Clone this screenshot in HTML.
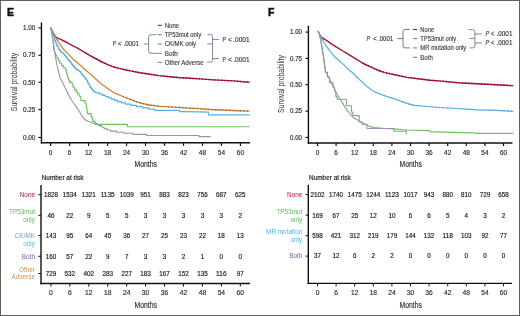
<!DOCTYPE html>
<html><head><meta charset="utf-8"><style>
html,body{margin:0;padding:0;background:#fff;}
body{width:520px;height:316px;overflow:hidden;}
.fig{position:absolute;left:0;top:0;width:520px;height:316px;box-sizing:border-box;border:1px solid #606060;background:#fff;}
svg{position:absolute;left:0;top:0;will-change:transform;}
text{font-family:"Liberation Sans",sans-serif;}
</style></head><body>
<div class="fig"></div>
<svg width="520" height="316" viewBox="0 0 520 316">
<text x="7.10" y="15.88" font-size="10.5" fill="#111" font-weight="bold" stroke="#111" stroke-width="0.45">E</text>
<line x1="41.45" y1="22.50" x2="41.45" y2="143.50" stroke="#111" stroke-width="1.4"/>
<line x1="40.80" y1="142.80" x2="250.00" y2="142.80" stroke="#111" stroke-width="1.4"/>
<line x1="38.30" y1="27.90" x2="41.20" y2="27.90" stroke="#111" stroke-width="1.1"/>
<text x="35.30" y="30.17" font-size="6.3" fill="#333" text-anchor="end" textLength="12.4" lengthAdjust="spacingAndGlyphs" stroke="#333" stroke-width="0.18">1.00</text>
<line x1="38.30" y1="55.20" x2="41.20" y2="55.20" stroke="#111" stroke-width="1.1"/>
<text x="35.30" y="57.47" font-size="6.3" fill="#333" text-anchor="end" textLength="12.4" lengthAdjust="spacingAndGlyphs" stroke="#333" stroke-width="0.18">0.75</text>
<line x1="38.30" y1="82.30" x2="41.20" y2="82.30" stroke="#111" stroke-width="1.1"/>
<text x="35.30" y="84.57" font-size="6.3" fill="#333" text-anchor="end" textLength="12.4" lengthAdjust="spacingAndGlyphs" stroke="#333" stroke-width="0.18">0.50</text>
<line x1="38.30" y1="109.60" x2="41.20" y2="109.60" stroke="#111" stroke-width="1.1"/>
<text x="35.30" y="111.87" font-size="6.3" fill="#333" text-anchor="end" textLength="12.4" lengthAdjust="spacingAndGlyphs" stroke="#333" stroke-width="0.18">0.25</text>
<line x1="38.30" y1="137.50" x2="41.20" y2="137.50" stroke="#111" stroke-width="1.1"/>
<text x="35.30" y="139.77" font-size="6.3" fill="#333" text-anchor="end" textLength="12.4" lengthAdjust="spacingAndGlyphs" stroke="#333" stroke-width="0.18">0.00</text>
<line x1="50.60" y1="142.80" x2="50.60" y2="145.90" stroke="#111" stroke-width="1.2"/>
<text x="50.60" y="154.84" font-size="6.5" fill="#333" text-anchor="middle" stroke="#333" stroke-width="0.18">0</text>
<line x1="69.59" y1="142.80" x2="69.59" y2="145.90" stroke="#111" stroke-width="1.2"/>
<text x="69.59" y="154.84" font-size="6.5" fill="#333" text-anchor="middle" stroke="#333" stroke-width="0.18">6</text>
<line x1="88.57" y1="142.80" x2="88.57" y2="145.90" stroke="#111" stroke-width="1.2"/>
<text x="88.57" y="154.84" font-size="6.5" fill="#333" text-anchor="middle" stroke="#333" stroke-width="0.18">12</text>
<line x1="107.56" y1="142.80" x2="107.56" y2="145.90" stroke="#111" stroke-width="1.2"/>
<text x="107.56" y="154.84" font-size="6.5" fill="#333" text-anchor="middle" stroke="#333" stroke-width="0.18">18</text>
<line x1="126.54" y1="142.80" x2="126.54" y2="145.90" stroke="#111" stroke-width="1.2"/>
<text x="126.54" y="154.84" font-size="6.5" fill="#333" text-anchor="middle" stroke="#333" stroke-width="0.18">24</text>
<line x1="145.53" y1="142.80" x2="145.53" y2="145.90" stroke="#111" stroke-width="1.2"/>
<text x="145.53" y="154.84" font-size="6.5" fill="#333" text-anchor="middle" stroke="#333" stroke-width="0.18">30</text>
<line x1="164.51" y1="142.80" x2="164.51" y2="145.90" stroke="#111" stroke-width="1.2"/>
<text x="164.51" y="154.84" font-size="6.5" fill="#333" text-anchor="middle" stroke="#333" stroke-width="0.18">36</text>
<line x1="183.50" y1="142.80" x2="183.50" y2="145.90" stroke="#111" stroke-width="1.2"/>
<text x="183.50" y="154.84" font-size="6.5" fill="#333" text-anchor="middle" stroke="#333" stroke-width="0.18">42</text>
<line x1="202.48" y1="142.80" x2="202.48" y2="145.90" stroke="#111" stroke-width="1.2"/>
<text x="202.48" y="154.84" font-size="6.5" fill="#333" text-anchor="middle" stroke="#333" stroke-width="0.18">48</text>
<line x1="221.46" y1="142.80" x2="221.46" y2="145.90" stroke="#111" stroke-width="1.2"/>
<text x="221.46" y="154.84" font-size="6.5" fill="#333" text-anchor="middle" stroke="#333" stroke-width="0.18">54</text>
<line x1="240.45" y1="142.80" x2="240.45" y2="145.90" stroke="#111" stroke-width="1.2"/>
<text x="240.45" y="154.84" font-size="6.5" fill="#333" text-anchor="middle" stroke="#333" stroke-width="0.18">60</text>
<text x="145.70" y="166.70" font-size="8.6" fill="#333" text-anchor="middle" textLength="22.6" lengthAdjust="spacingAndGlyphs" stroke="#333" stroke-width="0.18">Months</text>
<text transform="translate(17.4,82.0) rotate(-90)" font-size="8.6" fill="#333" text-anchor="middle" textLength="58.4" lengthAdjust="spacingAndGlyphs">Survival probability</text>
<path d="M50.60,27.90 L52.50,31.50 L55.10,36.20 L57.00,37.90 L60.60,39.40 L64.00,41.00 L68.50,43.40 L73.00,45.80 L78.00,48.30 L85.00,52.60 L90.00,55.60 L96.40,59.00 L102.00,62.00 L107.80,64.60 L113.00,66.70 L119.20,68.40 L125.00,69.70 L130.50,70.90 L140.00,72.70 L150.00,74.30 L159.00,75.60 L170.00,76.70 L178.00,77.50 L190.00,78.30 L200.00,78.90 L214.00,79.90 L233.00,80.90 L249.50,82.20" stroke="#ad163b" stroke-width="1.45" fill="none" stroke-linejoin="round"/>
<path d="M85.00,52.60 L90.00,55.60 L96.40,59.00 L102.00,62.00 L107.80,64.60 L113.00,66.70 L119.20,68.40 L125.00,69.70 L130.50,70.90 L140.00,72.70 L150.00,74.30 L159.00,75.60 L170.00,76.70 L178.00,77.50 L190.00,78.30 L200.00,78.90 L214.00,79.90 L233.00,80.90 L249.50,82.20" stroke="#6a0c22" stroke-width="1.55" fill="none" stroke-linejoin="round" stroke-dasharray="0.8 2.4"/>
<path d="M50.60,27.90 L53.00,32.50 L55.10,36.80 L59.10,43.20 L63.80,49.50 L68.50,54.40 L73.30,59.20 L78.00,63.30 L85.00,69.40 L92.60,76.00 L100.20,83.00 L110.00,90.30 L116.00,93.60 L123.00,96.50 L131.00,99.60 L138.00,102.30 L149.00,105.00 L160.00,106.30 L170.00,106.90 L185.00,107.90 L200.00,108.70 L210.00,109.50 L233.00,110.50 L249.50,111.20" stroke="#cc8635" stroke-width="1.3" fill="none" stroke-linejoin="round"/>
<path d="M123.00,96.50 L131.00,99.60 L138.00,102.30 L149.00,105.00 L160.00,106.30 L170.00,106.90 L185.00,107.90 L200.00,108.70 L210.00,109.50 L233.00,110.50 L249.50,111.20" stroke="#6e5434" stroke-width="1.5" fill="none" stroke-linejoin="round" stroke-dasharray="0.7 2.9"/>
<path d="M50.60,27.90 L51.60,27.90 L51.60,29.15 L51.60,29.15 L51.60,30.40 L52.60,30.40 L52.60,31.65 L52.60,31.65 L52.60,32.90 L52.60,32.90 L52.60,34.15 L53.60,34.15 L53.60,35.40 L53.60,35.40 L53.60,36.65 L54.60,36.65 L54.60,37.90 L54.60,37.90 L54.60,39.15 L54.60,39.15 L54.60,40.40 L55.60,40.40 L55.60,41.65 L55.60,41.65 L55.60,42.90 L56.60,42.90 L56.60,44.15 L56.60,44.15 L56.60,45.40 L57.60,45.40 L57.60,46.65 L58.60,46.65 L58.60,47.90 L58.60,47.90 L58.60,49.15 L59.60,49.15 L59.60,50.40 L60.60,50.40 L60.60,51.65 L61.60,51.65 L61.60,52.90 L63.60,52.90 L63.60,54.15 L64.60,54.15 L64.60,55.40 L65.60,55.40 L65.60,56.65 L66.60,56.65 L66.60,57.90 L67.60,57.90 L67.60,59.15 L68.60,59.15 L68.60,60.40 L69.60,60.40 L69.60,61.65 L70.60,61.65 L70.60,62.90 L71.60,62.90 L71.60,64.15 L72.60,64.15 L72.60,65.40 L73.60,65.40 L73.60,66.65 L74.60,66.65 L74.60,67.90 L75.60,67.90 L75.60,69.15 L77.60,69.15 L77.60,70.40 L79.60,70.40 L79.60,71.65 L80.60,71.65 L80.60,72.90 L81.60,72.90 L81.60,74.15 L82.60,74.15 L82.60,75.40 L83.60,75.40 L83.60,76.65 L84.60,76.65 L84.60,77.90 L85.60,77.90 L85.60,79.15 L86.60,79.15 L86.60,80.40 L87.60,80.40 L87.60,81.65 L87.60,81.65 L87.60,82.90 L88.60,82.90 L88.60,84.15 L89.60,84.15 L89.60,85.40 L89.60,85.40 L89.60,86.65 L90.60,86.65 L90.60,87.90 L91.60,87.90 L91.60,89.15 L92.60,89.15 L92.60,90.40 L93.60,90.40 L93.60,91.65 L95.60,91.65 L95.60,92.90 L99.60,92.90 L99.60,94.15 L102.60,94.15 L102.60,95.40 L105.60,95.40 L105.60,96.65 L108.60,96.65 L108.60,97.90 L111.60,97.90 L111.60,99.15 L114.60,99.15 L114.60,100.40 L117.60,100.40 L117.60,101.65 L121.60,101.65 L121.60,102.90 L125.60,102.90 L125.60,104.15 L130.60,104.15 L130.60,105.40 L136.60,105.40 L136.60,106.65 L142.60,106.65 L142.60,107.90 L148.60,107.90 L148.60,109.15 L154.60,109.15 L154.60,110.40 L179.60,110.40 L179.60,111.65 L185.00,111.65 L208.30,112.20 L208.50,114.90 L249.50,114.90" stroke="#55b3e2" stroke-width="1.2" fill="none" stroke-linejoin="round"/>
<path d="M50.60,27.90 L51.60,31.50 L52.60,37.00 L53.30,43.00 L53.70,47.50 L53.70,50.50 L54.60,50.50 L54.60,53.00 L55.60,53.00 L55.60,55.60 L57.00,55.60 L57.00,58.20 L58.50,58.20 L58.50,60.80 L59.80,60.80 L59.80,63.30 L61.50,63.30 L61.50,65.60 L63.60,65.60 L63.60,67.70 L65.80,67.70 L65.80,70.20 L66.40,70.20 L66.40,72.60 L67.00,72.60 L67.00,75.00 L67.70,75.00 L67.70,77.50 L68.40,77.50 L68.40,80.00 L69.60,80.00 L69.60,82.40 L72.20,82.40 L72.20,84.80 L73.10,84.80 L73.10,87.20 L74.60,87.20 L74.60,89.60 L76.20,89.60 L76.20,92.00 L77.60,92.00 L77.60,93.80 L79.20,93.80 L79.20,96.20 L80.80,96.20 L80.80,100.60 L85.00,100.60 L85.00,103.20 L86.20,103.20 L86.20,105.80 L86.60,105.80 L86.60,108.50 L87.00,108.50 L87.00,111.00 L87.40,111.00 L87.40,113.60 L91.00,113.60 L91.00,116.20 L92.00,116.20 L92.00,118.80 L92.80,118.80 L92.80,121.40 L95.20,121.40 L95.20,124.40 L127.50,124.40 L127.50,126.80 L249.50,126.80" stroke="#6fbf5e" stroke-width="1.1" fill="none" stroke-linejoin="round"/>
<path d="M50.60,27.90 L52.00,33.50 L53.20,42.00 L54.30,49.50 L55.50,57.00 L56.60,63.50 L57.60,68.00 L58.90,72.70 L60.10,77.70 L62.70,82.80 L65.20,87.80 L67.70,92.90 L70.90,99.20 L73.50,103.00 L76.00,106.40 L78.40,110.00 L80.80,114.00 L83.20,117.60 L85.60,120.00 L88.50,121.40 L91.00,122.20 L94.00,123.40 L94.00,123.40 L97.00,123.40 L97.00,124.50 L98.50,124.50 L98.50,125.60 L101.50,125.60 L101.50,126.70 L103.00,126.70 L103.00,127.80 L104.50,127.80 L104.50,128.90 L107.50,128.90 L107.50,130.00 L110.50,130.00 L110.50,131.10 L116.50,131.10 L116.50,132.20 L124.00,132.20 L124.00,133.30 L133.00,133.30 L133.00,134.40 L146.50,134.40 L146.50,135.50 L199.00,135.50 L199.00,136.60 L210.80,136.60" stroke="#9893b6" stroke-width="1.1" fill="none" stroke-linejoin="round"/>
<line x1="157.80" y1="25.30" x2="161.80" y2="25.30" stroke="#8c1a32" stroke-width="1.1"/>
<text x="164.70" y="27.60" font-size="6.4" fill="#4a4a4a" textLength="14.5" lengthAdjust="spacingAndGlyphs" stroke="#4a4a4a" stroke-width="0.18">None</text>
<line x1="157.80" y1="34.70" x2="161.80" y2="34.70" stroke="#5ea45a" stroke-width="1.1"/>
<text x="164.70" y="37.00" font-size="6.4" fill="#4a4a4a" textLength="36.5" lengthAdjust="spacingAndGlyphs" stroke="#4a4a4a" stroke-width="0.18">TP53mut only</text>
<line x1="157.80" y1="44.00" x2="161.80" y2="44.00" stroke="#4a9ec0" stroke-width="1.1"/>
<text x="164.70" y="46.30" font-size="6.4" fill="#4a4a4a" textLength="31.4" lengthAdjust="spacingAndGlyphs" stroke="#4a4a4a" stroke-width="0.18">CK/MK only</text>
<line x1="157.80" y1="53.30" x2="161.80" y2="53.30" stroke="#857fa5" stroke-width="1.1"/>
<text x="164.70" y="55.60" font-size="6.4" fill="#4a4a4a" textLength="13.0" lengthAdjust="spacingAndGlyphs" stroke="#4a4a4a" stroke-width="0.18">Both</text>
<line x1="157.80" y1="62.40" x2="161.80" y2="62.40" stroke="#b87c3a" stroke-width="1.1"/>
<text x="164.70" y="64.70" font-size="6.4" fill="#4a4a4a" textLength="39.0" lengthAdjust="spacingAndGlyphs" stroke="#4a4a4a" stroke-width="0.18">Other Adverse</text>
<text x="112.70" y="45.88" font-size="6.6" fill="#444" textLength="3.4" lengthAdjust="spacingAndGlyphs" stroke="#444" stroke-width="0.18">P</text>
<text x="117.70" y="45.88" font-size="6.6" fill="#444" stroke="#444" stroke-width="0.18">&lt;</text>
<text x="123.40" y="45.88" font-size="6.6" fill="#444" textLength="15.7" lengthAdjust="spacingAndGlyphs" stroke="#444" stroke-width="0.18">.0001</text>
<path d="M144,44 L148.6,44 M156.5,34.7 L151,34.7 Q148.6,34.7 148.6,37.2 L148.6,50.8 Q148.6,53.3 151,53.3 L157.5,53.3" stroke="#6f7a92" stroke-width="0.9" fill="none" stroke-linejoin="round"/>
<path d="M207.5,34.4 L210.5,34.4 Q212.6,34.4 212.6,36.5 L212.6,60.2 Q212.6,62.2 210.5,62.2 L207.2,62.2" stroke="#6f7a92" stroke-width="0.9" fill="none" stroke-linejoin="round"/>
<path d="M207.2,43.9 L212.6,43.9" stroke="#6f7a92" stroke-width="0.9" fill="none" stroke-linejoin="round"/>
<path d="M212.6,39.4 L219,39.4 M212.6,58.6 L219,58.6" stroke="#6f7a92" stroke-width="0.9" fill="none" stroke-linejoin="round"/>
<text x="222.40" y="41.98" font-size="6.6" fill="#444" textLength="3.4" lengthAdjust="spacingAndGlyphs" stroke="#444" stroke-width="0.18">P</text>
<text x="227.90" y="41.98" font-size="6.6" fill="#444" stroke="#444" stroke-width="0.18">&lt;</text>
<text x="233.30" y="41.98" font-size="6.6" fill="#444" textLength="16.3" lengthAdjust="spacingAndGlyphs" stroke="#444" stroke-width="0.18">.0001</text>
<text x="222.40" y="61.88" font-size="6.6" fill="#444" textLength="3.4" lengthAdjust="spacingAndGlyphs" stroke="#444" stroke-width="0.18">P</text>
<text x="227.90" y="61.88" font-size="6.6" fill="#444" stroke="#444" stroke-width="0.18">&lt;</text>
<text x="233.30" y="61.88" font-size="6.6" fill="#444" textLength="16.3" lengthAdjust="spacingAndGlyphs" stroke="#444" stroke-width="0.18">.0001</text>
<text x="41.70" y="180.30" font-size="6.4" fill="#222" textLength="41.8" lengthAdjust="spacingAndGlyphs" stroke="#222" stroke-width="0.18">Number at risk</text>
<line x1="41.00" y1="185.00" x2="41.00" y2="284.20" stroke="#111" stroke-width="1.4"/>
<line x1="40.30" y1="283.50" x2="250.00" y2="283.50" stroke="#111" stroke-width="1.4"/>
<line x1="50.90" y1="283.50" x2="50.90" y2="286.60" stroke="#111" stroke-width="1.0"/>
<text x="50.90" y="295.31" font-size="6.7" fill="#333" text-anchor="middle" stroke="#333" stroke-width="0.18">0</text>
<line x1="69.84" y1="283.50" x2="69.84" y2="286.60" stroke="#111" stroke-width="1.0"/>
<text x="69.84" y="295.31" font-size="6.7" fill="#333" text-anchor="middle" stroke="#333" stroke-width="0.18">6</text>
<line x1="88.78" y1="283.50" x2="88.78" y2="286.60" stroke="#111" stroke-width="1.0"/>
<text x="88.78" y="295.31" font-size="6.7" fill="#333" text-anchor="middle" stroke="#333" stroke-width="0.18">12</text>
<line x1="107.72" y1="283.50" x2="107.72" y2="286.60" stroke="#111" stroke-width="1.0"/>
<text x="107.72" y="295.31" font-size="6.7" fill="#333" text-anchor="middle" stroke="#333" stroke-width="0.18">18</text>
<line x1="126.66" y1="283.50" x2="126.66" y2="286.60" stroke="#111" stroke-width="1.0"/>
<text x="126.66" y="295.31" font-size="6.7" fill="#333" text-anchor="middle" stroke="#333" stroke-width="0.18">24</text>
<line x1="145.60" y1="283.50" x2="145.60" y2="286.60" stroke="#111" stroke-width="1.0"/>
<text x="145.60" y="295.31" font-size="6.7" fill="#333" text-anchor="middle" stroke="#333" stroke-width="0.18">30</text>
<line x1="164.54" y1="283.50" x2="164.54" y2="286.60" stroke="#111" stroke-width="1.0"/>
<text x="164.54" y="295.31" font-size="6.7" fill="#333" text-anchor="middle" stroke="#333" stroke-width="0.18">36</text>
<line x1="183.48" y1="283.50" x2="183.48" y2="286.60" stroke="#111" stroke-width="1.0"/>
<text x="183.48" y="295.31" font-size="6.7" fill="#333" text-anchor="middle" stroke="#333" stroke-width="0.18">42</text>
<line x1="202.42" y1="283.50" x2="202.42" y2="286.60" stroke="#111" stroke-width="1.0"/>
<text x="202.42" y="295.31" font-size="6.7" fill="#333" text-anchor="middle" stroke="#333" stroke-width="0.18">48</text>
<line x1="221.36" y1="283.50" x2="221.36" y2="286.60" stroke="#111" stroke-width="1.0"/>
<text x="221.36" y="295.31" font-size="6.7" fill="#333" text-anchor="middle" stroke="#333" stroke-width="0.18">54</text>
<line x1="240.30" y1="283.50" x2="240.30" y2="286.60" stroke="#111" stroke-width="1.0"/>
<text x="240.30" y="295.31" font-size="6.7" fill="#333" text-anchor="middle" stroke="#333" stroke-width="0.18">60</text>
<text x="145.70" y="307.70" font-size="8.6" fill="#333" text-anchor="middle" textLength="22.4" lengthAdjust="spacingAndGlyphs" stroke="#333" stroke-width="0.18">Months</text>
<line x1="38.30" y1="194.70" x2="40.90" y2="194.70" stroke="#111" stroke-width="1.0"/>
<text x="35.00" y="197.00" font-size="6.4" fill="#ad163b" text-anchor="end" stroke="none">None</text>
<text x="50.90" y="197.04" font-size="6.5" fill="#222" text-anchor="middle" textLength="14.0" lengthAdjust="spacingAndGlyphs" stroke="#222" stroke-width="0.18">1828</text>
<text x="69.84" y="197.04" font-size="6.5" fill="#222" text-anchor="middle" textLength="14.0" lengthAdjust="spacingAndGlyphs" stroke="#222" stroke-width="0.18">1534</text>
<text x="88.78" y="197.04" font-size="6.5" fill="#222" text-anchor="middle" textLength="14.0" lengthAdjust="spacingAndGlyphs" stroke="#222" stroke-width="0.18">1321</text>
<text x="107.72" y="197.04" font-size="6.5" fill="#222" text-anchor="middle" textLength="14.0" lengthAdjust="spacingAndGlyphs" stroke="#222" stroke-width="0.18">1135</text>
<text x="126.66" y="197.04" font-size="6.5" fill="#222" text-anchor="middle" textLength="14.0" lengthAdjust="spacingAndGlyphs" stroke="#222" stroke-width="0.18">1039</text>
<text x="145.60" y="197.04" font-size="6.5" fill="#222" text-anchor="middle" textLength="10.5" lengthAdjust="spacingAndGlyphs" stroke="#222" stroke-width="0.18">951</text>
<text x="164.54" y="197.04" font-size="6.5" fill="#222" text-anchor="middle" textLength="10.5" lengthAdjust="spacingAndGlyphs" stroke="#222" stroke-width="0.18">883</text>
<text x="183.48" y="197.04" font-size="6.5" fill="#222" text-anchor="middle" textLength="10.5" lengthAdjust="spacingAndGlyphs" stroke="#222" stroke-width="0.18">823</text>
<text x="202.42" y="197.04" font-size="6.5" fill="#222" text-anchor="middle" textLength="10.5" lengthAdjust="spacingAndGlyphs" stroke="#222" stroke-width="0.18">756</text>
<text x="221.36" y="197.04" font-size="6.5" fill="#222" text-anchor="middle" textLength="10.5" lengthAdjust="spacingAndGlyphs" stroke="#222" stroke-width="0.18">687</text>
<text x="240.30" y="197.04" font-size="6.5" fill="#222" text-anchor="middle" textLength="10.5" lengthAdjust="spacingAndGlyphs" stroke="#222" stroke-width="0.18">625</text>
<line x1="38.30" y1="215.30" x2="40.90" y2="215.30" stroke="#111" stroke-width="1.0"/>
<text x="35.00" y="213.70" font-size="6.4" fill="#5cb85c" text-anchor="end" stroke="none">TP53mut</text>
<text x="35.00" y="221.90" font-size="6.4" fill="#5cb85c" text-anchor="end" stroke="none">only</text>
<text x="50.90" y="217.64" font-size="6.5" fill="#222" text-anchor="middle" textLength="7.0" lengthAdjust="spacingAndGlyphs" stroke="#222" stroke-width="0.18">46</text>
<text x="69.84" y="217.64" font-size="6.5" fill="#222" text-anchor="middle" textLength="7.0" lengthAdjust="spacingAndGlyphs" stroke="#222" stroke-width="0.18">22</text>
<text x="88.78" y="217.64" font-size="6.5" fill="#222" text-anchor="middle" textLength="3.5" lengthAdjust="spacingAndGlyphs" stroke="#222" stroke-width="0.18">9</text>
<text x="107.72" y="217.64" font-size="6.5" fill="#222" text-anchor="middle" textLength="3.5" lengthAdjust="spacingAndGlyphs" stroke="#222" stroke-width="0.18">5</text>
<text x="126.66" y="217.64" font-size="6.5" fill="#222" text-anchor="middle" textLength="3.5" lengthAdjust="spacingAndGlyphs" stroke="#222" stroke-width="0.18">5</text>
<text x="145.60" y="217.64" font-size="6.5" fill="#222" text-anchor="middle" textLength="3.5" lengthAdjust="spacingAndGlyphs" stroke="#222" stroke-width="0.18">3</text>
<text x="164.54" y="217.64" font-size="6.5" fill="#222" text-anchor="middle" textLength="3.5" lengthAdjust="spacingAndGlyphs" stroke="#222" stroke-width="0.18">3</text>
<text x="183.48" y="217.64" font-size="6.5" fill="#222" text-anchor="middle" textLength="3.5" lengthAdjust="spacingAndGlyphs" stroke="#222" stroke-width="0.18">3</text>
<text x="202.42" y="217.64" font-size="6.5" fill="#222" text-anchor="middle" textLength="3.5" lengthAdjust="spacingAndGlyphs" stroke="#222" stroke-width="0.18">3</text>
<text x="221.36" y="217.64" font-size="6.5" fill="#222" text-anchor="middle" textLength="3.5" lengthAdjust="spacingAndGlyphs" stroke="#222" stroke-width="0.18">3</text>
<text x="240.30" y="217.64" font-size="6.5" fill="#222" text-anchor="middle" textLength="3.5" lengthAdjust="spacingAndGlyphs" stroke="#222" stroke-width="0.18">2</text>
<line x1="38.30" y1="235.50" x2="40.90" y2="235.50" stroke="#111" stroke-width="1.0"/>
<text x="35.00" y="237.50" font-size="6.4" fill="#4fb3e3" text-anchor="end" stroke="none">CK/MK</text>
<text x="35.00" y="245.80" font-size="6.4" fill="#4fb3e3" text-anchor="end" stroke="none">only</text>
<text x="50.90" y="237.84" font-size="6.5" fill="#222" text-anchor="middle" textLength="10.5" lengthAdjust="spacingAndGlyphs" stroke="#222" stroke-width="0.18">143</text>
<text x="69.84" y="237.84" font-size="6.5" fill="#222" text-anchor="middle" textLength="7.0" lengthAdjust="spacingAndGlyphs" stroke="#222" stroke-width="0.18">95</text>
<text x="88.78" y="237.84" font-size="6.5" fill="#222" text-anchor="middle" textLength="7.0" lengthAdjust="spacingAndGlyphs" stroke="#222" stroke-width="0.18">64</text>
<text x="107.72" y="237.84" font-size="6.5" fill="#222" text-anchor="middle" textLength="7.0" lengthAdjust="spacingAndGlyphs" stroke="#222" stroke-width="0.18">45</text>
<text x="126.66" y="237.84" font-size="6.5" fill="#222" text-anchor="middle" textLength="7.0" lengthAdjust="spacingAndGlyphs" stroke="#222" stroke-width="0.18">36</text>
<text x="145.60" y="237.84" font-size="6.5" fill="#222" text-anchor="middle" textLength="7.0" lengthAdjust="spacingAndGlyphs" stroke="#222" stroke-width="0.18">27</text>
<text x="164.54" y="237.84" font-size="6.5" fill="#222" text-anchor="middle" textLength="7.0" lengthAdjust="spacingAndGlyphs" stroke="#222" stroke-width="0.18">25</text>
<text x="183.48" y="237.84" font-size="6.5" fill="#222" text-anchor="middle" textLength="7.0" lengthAdjust="spacingAndGlyphs" stroke="#222" stroke-width="0.18">23</text>
<text x="202.42" y="237.84" font-size="6.5" fill="#222" text-anchor="middle" textLength="7.0" lengthAdjust="spacingAndGlyphs" stroke="#222" stroke-width="0.18">22</text>
<text x="221.36" y="237.84" font-size="6.5" fill="#222" text-anchor="middle" textLength="7.0" lengthAdjust="spacingAndGlyphs" stroke="#222" stroke-width="0.18">18</text>
<text x="240.30" y="237.84" font-size="6.5" fill="#222" text-anchor="middle" textLength="7.0" lengthAdjust="spacingAndGlyphs" stroke="#222" stroke-width="0.18">13</text>
<line x1="38.30" y1="256.30" x2="40.90" y2="256.30" stroke="#111" stroke-width="1.0"/>
<text x="35.00" y="258.60" font-size="6.4" fill="#74649a" text-anchor="end" stroke="none">Both</text>
<text x="50.90" y="258.64" font-size="6.5" fill="#222" text-anchor="middle" textLength="10.5" lengthAdjust="spacingAndGlyphs" stroke="#222" stroke-width="0.18">160</text>
<text x="69.84" y="258.64" font-size="6.5" fill="#222" text-anchor="middle" textLength="7.0" lengthAdjust="spacingAndGlyphs" stroke="#222" stroke-width="0.18">57</text>
<text x="88.78" y="258.64" font-size="6.5" fill="#222" text-anchor="middle" textLength="7.0" lengthAdjust="spacingAndGlyphs" stroke="#222" stroke-width="0.18">22</text>
<text x="107.72" y="258.64" font-size="6.5" fill="#222" text-anchor="middle" textLength="3.5" lengthAdjust="spacingAndGlyphs" stroke="#222" stroke-width="0.18">9</text>
<text x="126.66" y="258.64" font-size="6.5" fill="#222" text-anchor="middle" textLength="3.5" lengthAdjust="spacingAndGlyphs" stroke="#222" stroke-width="0.18">7</text>
<text x="145.60" y="258.64" font-size="6.5" fill="#222" text-anchor="middle" textLength="3.5" lengthAdjust="spacingAndGlyphs" stroke="#222" stroke-width="0.18">3</text>
<text x="164.54" y="258.64" font-size="6.5" fill="#222" text-anchor="middle" textLength="3.5" lengthAdjust="spacingAndGlyphs" stroke="#222" stroke-width="0.18">3</text>
<text x="183.48" y="258.64" font-size="6.5" fill="#222" text-anchor="middle" textLength="3.5" lengthAdjust="spacingAndGlyphs" stroke="#222" stroke-width="0.18">2</text>
<text x="202.42" y="258.64" font-size="6.5" fill="#222" text-anchor="middle" textLength="3.5" lengthAdjust="spacingAndGlyphs" stroke="#222" stroke-width="0.18">1</text>
<text x="221.36" y="258.64" font-size="6.5" fill="#222" text-anchor="middle" textLength="3.5" lengthAdjust="spacingAndGlyphs" stroke="#222" stroke-width="0.18">0</text>
<text x="240.30" y="258.64" font-size="6.5" fill="#222" text-anchor="middle" textLength="3.5" lengthAdjust="spacingAndGlyphs" stroke="#222" stroke-width="0.18">0</text>
<line x1="38.30" y1="273.50" x2="40.90" y2="273.50" stroke="#111" stroke-width="1.0"/>
<text x="35.00" y="271.70" font-size="6.4" fill="#c8935a" text-anchor="end" stroke="none">Other</text>
<text x="35.00" y="279.30" font-size="6.4" fill="#c8935a" text-anchor="end" stroke="none">Adverse</text>
<text x="50.90" y="275.84" font-size="6.5" fill="#222" text-anchor="middle" textLength="10.5" lengthAdjust="spacingAndGlyphs" stroke="#222" stroke-width="0.18">729</text>
<text x="69.84" y="275.84" font-size="6.5" fill="#222" text-anchor="middle" textLength="10.5" lengthAdjust="spacingAndGlyphs" stroke="#222" stroke-width="0.18">532</text>
<text x="88.78" y="275.84" font-size="6.5" fill="#222" text-anchor="middle" textLength="10.5" lengthAdjust="spacingAndGlyphs" stroke="#222" stroke-width="0.18">402</text>
<text x="107.72" y="275.84" font-size="6.5" fill="#222" text-anchor="middle" textLength="10.5" lengthAdjust="spacingAndGlyphs" stroke="#222" stroke-width="0.18">283</text>
<text x="126.66" y="275.84" font-size="6.5" fill="#222" text-anchor="middle" textLength="10.5" lengthAdjust="spacingAndGlyphs" stroke="#222" stroke-width="0.18">227</text>
<text x="145.60" y="275.84" font-size="6.5" fill="#222" text-anchor="middle" textLength="10.5" lengthAdjust="spacingAndGlyphs" stroke="#222" stroke-width="0.18">183</text>
<text x="164.54" y="275.84" font-size="6.5" fill="#222" text-anchor="middle" textLength="10.5" lengthAdjust="spacingAndGlyphs" stroke="#222" stroke-width="0.18">167</text>
<text x="183.48" y="275.84" font-size="6.5" fill="#222" text-anchor="middle" textLength="10.5" lengthAdjust="spacingAndGlyphs" stroke="#222" stroke-width="0.18">152</text>
<text x="202.42" y="275.84" font-size="6.5" fill="#222" text-anchor="middle" textLength="10.5" lengthAdjust="spacingAndGlyphs" stroke="#222" stroke-width="0.18">135</text>
<text x="221.36" y="275.84" font-size="6.5" fill="#222" text-anchor="middle" textLength="10.5" lengthAdjust="spacingAndGlyphs" stroke="#222" stroke-width="0.18">116</text>
<text x="240.30" y="275.84" font-size="6.5" fill="#222" text-anchor="middle" textLength="7.0" lengthAdjust="spacingAndGlyphs" stroke="#222" stroke-width="0.18">97</text>
<text x="267.90" y="15.88" font-size="10.5" fill="#111" font-weight="bold" stroke="#111" stroke-width="0.45">F</text>
<line x1="308.40" y1="25.70" x2="308.40" y2="143.70" stroke="#111" stroke-width="1.4"/>
<line x1="307.70" y1="143.00" x2="512.50" y2="143.00" stroke="#111" stroke-width="1.4"/>
<line x1="305.40" y1="32.10" x2="308.20" y2="32.10" stroke="#111" stroke-width="1.1"/>
<text x="302.00" y="34.37" font-size="6.3" fill="#333" text-anchor="end" textLength="12.0" lengthAdjust="spacingAndGlyphs" stroke="#333" stroke-width="0.18">1.00</text>
<line x1="305.40" y1="58.40" x2="308.20" y2="58.40" stroke="#111" stroke-width="1.1"/>
<text x="302.00" y="60.67" font-size="6.3" fill="#333" text-anchor="end" textLength="12.0" lengthAdjust="spacingAndGlyphs" stroke="#333" stroke-width="0.18">0.75</text>
<line x1="305.40" y1="84.70" x2="308.20" y2="84.70" stroke="#111" stroke-width="1.1"/>
<text x="302.00" y="86.97" font-size="6.3" fill="#333" text-anchor="end" textLength="12.0" lengthAdjust="spacingAndGlyphs" stroke="#333" stroke-width="0.18">0.50</text>
<line x1="305.40" y1="111.10" x2="308.20" y2="111.10" stroke="#111" stroke-width="1.1"/>
<text x="302.00" y="113.37" font-size="6.3" fill="#333" text-anchor="end" textLength="12.0" lengthAdjust="spacingAndGlyphs" stroke="#333" stroke-width="0.18">0.25</text>
<line x1="305.40" y1="137.40" x2="308.20" y2="137.40" stroke="#111" stroke-width="1.1"/>
<text x="302.00" y="139.67" font-size="6.3" fill="#333" text-anchor="end" textLength="12.0" lengthAdjust="spacingAndGlyphs" stroke="#333" stroke-width="0.18">0.00</text>
<line x1="317.50" y1="143.00" x2="317.50" y2="146.10" stroke="#111" stroke-width="1.2"/>
<text x="317.50" y="154.84" font-size="6.5" fill="#333" text-anchor="middle" stroke="#333" stroke-width="0.18">0</text>
<line x1="336.10" y1="143.00" x2="336.10" y2="146.10" stroke="#111" stroke-width="1.2"/>
<text x="336.10" y="154.84" font-size="6.5" fill="#333" text-anchor="middle" stroke="#333" stroke-width="0.18">6</text>
<line x1="354.70" y1="143.00" x2="354.70" y2="146.10" stroke="#111" stroke-width="1.2"/>
<text x="354.70" y="154.84" font-size="6.5" fill="#333" text-anchor="middle" stroke="#333" stroke-width="0.18">12</text>
<line x1="373.30" y1="143.00" x2="373.30" y2="146.10" stroke="#111" stroke-width="1.2"/>
<text x="373.30" y="154.84" font-size="6.5" fill="#333" text-anchor="middle" stroke="#333" stroke-width="0.18">18</text>
<line x1="391.90" y1="143.00" x2="391.90" y2="146.10" stroke="#111" stroke-width="1.2"/>
<text x="391.90" y="154.84" font-size="6.5" fill="#333" text-anchor="middle" stroke="#333" stroke-width="0.18">24</text>
<line x1="410.50" y1="143.00" x2="410.50" y2="146.10" stroke="#111" stroke-width="1.2"/>
<text x="410.50" y="154.84" font-size="6.5" fill="#333" text-anchor="middle" stroke="#333" stroke-width="0.18">30</text>
<line x1="429.10" y1="143.00" x2="429.10" y2="146.10" stroke="#111" stroke-width="1.2"/>
<text x="429.10" y="154.84" font-size="6.5" fill="#333" text-anchor="middle" stroke="#333" stroke-width="0.18">36</text>
<line x1="447.70" y1="143.00" x2="447.70" y2="146.10" stroke="#111" stroke-width="1.2"/>
<text x="447.70" y="154.84" font-size="6.5" fill="#333" text-anchor="middle" stroke="#333" stroke-width="0.18">42</text>
<line x1="466.30" y1="143.00" x2="466.30" y2="146.10" stroke="#111" stroke-width="1.2"/>
<text x="466.30" y="154.84" font-size="6.5" fill="#333" text-anchor="middle" stroke="#333" stroke-width="0.18">48</text>
<line x1="484.90" y1="143.00" x2="484.90" y2="146.10" stroke="#111" stroke-width="1.2"/>
<text x="484.90" y="154.84" font-size="6.5" fill="#333" text-anchor="middle" stroke="#333" stroke-width="0.18">54</text>
<line x1="503.50" y1="143.00" x2="503.50" y2="146.10" stroke="#111" stroke-width="1.2"/>
<text x="503.50" y="154.84" font-size="6.5" fill="#333" text-anchor="middle" stroke="#333" stroke-width="0.18">60</text>
<text x="410.70" y="166.90" font-size="8.6" fill="#333" text-anchor="middle" textLength="22.2" lengthAdjust="spacingAndGlyphs" stroke="#333" stroke-width="0.18">Months</text>
<text transform="translate(284.4,84.0) rotate(-90)" font-size="8.6" fill="#333" text-anchor="middle" textLength="57.8" lengthAdjust="spacingAndGlyphs">Survival probability</text>
<path d="M318.00,31.00 L319.60,34.50 L321.60,37.50 L326.40,40.30 L331.30,43.90 L334.90,46.20 L339.30,48.90 L343.70,51.50 L346.00,52.80 L350.10,55.30 L354.20,57.80 L358.30,60.40 L362.40,63.00 L366.50,65.00 L370.70,66.90 L374.80,68.90 L380.00,71.00 L385.00,72.60 L397.00,75.30 L407.00,77.40 L420.00,79.00 L430.00,80.20 L439.00,80.90 L458.00,82.70 L477.00,83.80 L496.00,84.70 L513.20,85.70" stroke="#ad163b" stroke-width="1.45" fill="none" stroke-linejoin="round"/>
<path d="M362.40,63.00 L366.50,65.00 L370.70,66.90 L374.80,68.90 L380.00,71.00 L385.00,72.60 L397.00,75.30 L407.00,77.40 L420.00,79.00 L430.00,80.20 L439.00,80.90 L458.00,82.70 L477.00,83.80 L496.00,84.70 L513.20,85.70" stroke="#6a0c22" stroke-width="1.55" fill="none" stroke-linejoin="round" stroke-dasharray="0.8 2.4"/>
<path d="M318.00,31.00 L319.80,34.50 L321.60,38.40 L324.00,42.50 L326.00,45.80 L328.70,49.30 L331.30,52.90 L334.90,57.00 L339.30,60.80 L343.70,64.60 L347.30,68.60 L350.10,70.70 L354.20,74.20 L358.50,78.80 L362.40,82.10 L365.50,85.30 L370.00,88.80 L374.30,91.70 L380.40,94.20 L387.00,96.60 L395.40,99.20 L402.00,101.60 L408.00,103.60 L413.00,105.20 L422.00,106.00 L439.00,107.50 L458.00,108.50 L477.00,109.80 L496.00,110.40 L513.20,111.30" stroke="#55b3e2" stroke-width="1.25" fill="none" stroke-linejoin="round"/>
<path d="M402.00,101.60 L408.00,103.60 L413.00,105.20 L422.00,106.00 L439.00,107.50 L458.00,108.50 L477.00,109.80 L496.00,110.40 L513.20,111.30" stroke="#3d8fb8" stroke-width="1.3" fill="none" stroke-linejoin="round" stroke-dasharray="0.6 3.2"/>
<path d="M318.00,31.00 L319.50,34.50 L320.70,39.40 L322.00,47.00 L323.50,56.50 L324.60,64.00 L325.60,71.40 L329.40,79.00 L333.20,86.60 L337.00,94.20 L340.70,100.00 L345.00,107.10 L349.20,112.80 L353.50,117.80 L358.50,120.60 L363.50,123.50 L369.20,126.30 L374.90,127.70 L385.00,128.50 L393.80,128.90 L405.00,130.00 L429.50,130.60 L430.00,131.60 L452.00,132.30 L475.00,132.80 L475.20,133.40 L513.20,133.40" stroke="#6fbf5e" stroke-width="1.2" fill="none" stroke-linejoin="round"/>
<path d="M318.00,31.00 L319.30,34.00 L320.50,40.00 L321.70,46.00 L322.80,53.00 L323.80,60.00 L324.60,66.00 L325.20,70.00 L325.20,72.30 L327.50,72.30 L327.50,77.10 L329.60,77.10 L329.60,82.80 L333.20,82.80 L333.20,87.50 L334.60,87.50 L334.60,91.30 L335.80,91.30 L335.80,96.40 L337.10,96.40 L337.10,99.30 L346.40,99.30 L346.40,105.70 L351.40,105.70 L351.40,112.10 L352.80,112.10 L352.80,115.60 L359.20,115.60 L359.20,122.00 L362.00,122.00 L362.00,124.20 L367.00,124.20 L367.00,128.50 L393.80,128.50 L393.80,131.20 L406.20,131.20" stroke="#9893b6" stroke-width="1.1" fill="none" stroke-linejoin="round"/>
<line x1="406.20" y1="129.20" x2="406.20" y2="135.20" stroke="#9893b6" stroke-width="0.9"/>
<line x1="412.90" y1="29.50" x2="417.20" y2="29.50" stroke="#8c1a32" stroke-width="1.1"/>
<text x="420.30" y="31.77" font-size="6.3" fill="#4a4a4a" textLength="13.9" lengthAdjust="spacingAndGlyphs" stroke="#4a4a4a" stroke-width="0.18">None</text>
<line x1="412.90" y1="38.60" x2="417.20" y2="38.60" stroke="#5ea45a" stroke-width="1.1"/>
<text x="420.30" y="40.87" font-size="6.3" fill="#4a4a4a" textLength="36.0" lengthAdjust="spacingAndGlyphs" stroke="#4a4a4a" stroke-width="0.18">TP53mut only</text>
<line x1="412.90" y1="47.90" x2="417.20" y2="47.90" stroke="#4a9ec0" stroke-width="1.1"/>
<text x="420.30" y="50.17" font-size="6.3" fill="#4a4a4a" textLength="46.0" lengthAdjust="spacingAndGlyphs" stroke="#4a4a4a" stroke-width="0.18">MR mutation only</text>
<line x1="412.90" y1="57.30" x2="417.20" y2="57.30" stroke="#857fa5" stroke-width="1.1"/>
<text x="420.30" y="59.57" font-size="6.3" fill="#4a4a4a" textLength="12.5" lengthAdjust="spacingAndGlyphs" stroke="#4a4a4a" stroke-width="0.18">Both</text>
<text x="366.60" y="40.60" font-size="6.4" fill="#444" textLength="3.6" lengthAdjust="spacingAndGlyphs" font-style="italic" stroke="#444" stroke-width="0.18">P</text>
<text x="372.90" y="40.60" font-size="6.4" fill="#444" stroke="#444" stroke-width="0.18">&lt;</text>
<text x="378.10" y="40.60" font-size="6.4" fill="#444" textLength="15.0" lengthAdjust="spacingAndGlyphs" stroke="#444" stroke-width="0.18">.0001</text>
<path d="M397.4,38.6 L403.0,38.6 M409.5,29.4 L405.0,29.4 Q403.0,29.4 403.0,31.6 L403.0,45.8 Q403.0,47.9 405.0,47.9 L410,47.9" stroke="#6f7a92" stroke-width="1.0" fill="none" stroke-linejoin="round"/>
<path d="M468.6,29.6 L472.6,29.6 Q474.9,29.6 474.9,31.9 L474.9,45.6 Q474.9,47.9 472.6,47.9 L469.3,47.9" stroke="#6f7a92" stroke-width="0.9" fill="none" stroke-linejoin="round"/>
<path d="M469.5,38.4 L474.9,38.4 M474.9,34.0 L482,34.0 M474.9,42.9 L482,42.9" stroke="#6f7a92" stroke-width="0.9" fill="none" stroke-linejoin="round"/>
<text x="485.50" y="35.90" font-size="6.4" fill="#444" textLength="3.6" lengthAdjust="spacingAndGlyphs" font-style="italic" stroke="#444" stroke-width="0.18">P</text>
<text x="490.70" y="35.90" font-size="6.4" fill="#444" stroke="#444" stroke-width="0.18">&lt;</text>
<text x="496.60" y="35.90" font-size="6.4" fill="#444" textLength="15.8" lengthAdjust="spacingAndGlyphs" stroke="#444" stroke-width="0.18">.0001</text>
<text x="485.50" y="45.20" font-size="6.4" fill="#444" textLength="3.6" lengthAdjust="spacingAndGlyphs" font-style="italic" stroke="#444" stroke-width="0.18">P</text>
<text x="490.70" y="45.20" font-size="6.4" fill="#444" stroke="#444" stroke-width="0.18">&lt;</text>
<text x="496.60" y="45.20" font-size="6.4" fill="#444" textLength="15.8" lengthAdjust="spacingAndGlyphs" stroke="#444" stroke-width="0.18">.0001</text>
<text x="309.00" y="180.00" font-size="6.4" fill="#222" textLength="41.8" lengthAdjust="spacingAndGlyphs" stroke="#222" stroke-width="0.18">Number at risk</text>
<line x1="308.30" y1="184.80" x2="308.30" y2="284.10" stroke="#111" stroke-width="1.4"/>
<line x1="307.60" y1="283.40" x2="512.00" y2="283.40" stroke="#111" stroke-width="1.4"/>
<line x1="317.50" y1="283.40" x2="317.50" y2="286.40" stroke="#111" stroke-width="1.0"/>
<text x="317.50" y="295.41" font-size="6.7" fill="#333" text-anchor="middle" stroke="#333" stroke-width="0.18">0</text>
<line x1="336.10" y1="283.40" x2="336.10" y2="286.40" stroke="#111" stroke-width="1.0"/>
<text x="336.10" y="295.41" font-size="6.7" fill="#333" text-anchor="middle" stroke="#333" stroke-width="0.18">6</text>
<line x1="354.70" y1="283.40" x2="354.70" y2="286.40" stroke="#111" stroke-width="1.0"/>
<text x="354.70" y="295.41" font-size="6.7" fill="#333" text-anchor="middle" stroke="#333" stroke-width="0.18">12</text>
<line x1="373.30" y1="283.40" x2="373.30" y2="286.40" stroke="#111" stroke-width="1.0"/>
<text x="373.30" y="295.41" font-size="6.7" fill="#333" text-anchor="middle" stroke="#333" stroke-width="0.18">18</text>
<line x1="391.90" y1="283.40" x2="391.90" y2="286.40" stroke="#111" stroke-width="1.0"/>
<text x="391.90" y="295.41" font-size="6.7" fill="#333" text-anchor="middle" stroke="#333" stroke-width="0.18">24</text>
<line x1="410.50" y1="283.40" x2="410.50" y2="286.40" stroke="#111" stroke-width="1.0"/>
<text x="410.50" y="295.41" font-size="6.7" fill="#333" text-anchor="middle" stroke="#333" stroke-width="0.18">30</text>
<line x1="429.10" y1="283.40" x2="429.10" y2="286.40" stroke="#111" stroke-width="1.0"/>
<text x="429.10" y="295.41" font-size="6.7" fill="#333" text-anchor="middle" stroke="#333" stroke-width="0.18">36</text>
<line x1="447.70" y1="283.40" x2="447.70" y2="286.40" stroke="#111" stroke-width="1.0"/>
<text x="447.70" y="295.41" font-size="6.7" fill="#333" text-anchor="middle" stroke="#333" stroke-width="0.18">42</text>
<line x1="466.30" y1="283.40" x2="466.30" y2="286.40" stroke="#111" stroke-width="1.0"/>
<text x="466.30" y="295.41" font-size="6.7" fill="#333" text-anchor="middle" stroke="#333" stroke-width="0.18">48</text>
<line x1="484.90" y1="283.40" x2="484.90" y2="286.40" stroke="#111" stroke-width="1.0"/>
<text x="484.90" y="295.41" font-size="6.7" fill="#333" text-anchor="middle" stroke="#333" stroke-width="0.18">54</text>
<line x1="503.50" y1="283.40" x2="503.50" y2="286.40" stroke="#111" stroke-width="1.0"/>
<text x="503.50" y="295.41" font-size="6.7" fill="#333" text-anchor="middle" stroke="#333" stroke-width="0.18">60</text>
<text x="410.70" y="307.70" font-size="8.6" fill="#333" text-anchor="middle" textLength="22.2" lengthAdjust="spacingAndGlyphs" stroke="#333" stroke-width="0.18">Months</text>
<line x1="305.60" y1="194.60" x2="308.20" y2="194.60" stroke="#111" stroke-width="1.0"/>
<text x="302.30" y="196.90" font-size="6.4" fill="#ad163b" text-anchor="end" stroke="none">None</text>
<text x="317.50" y="196.94" font-size="6.5" fill="#222" text-anchor="middle" textLength="14.0" lengthAdjust="spacingAndGlyphs" stroke="#222" stroke-width="0.18">2102</text>
<text x="336.10" y="196.94" font-size="6.5" fill="#222" text-anchor="middle" textLength="14.0" lengthAdjust="spacingAndGlyphs" stroke="#222" stroke-width="0.18">1740</text>
<text x="354.70" y="196.94" font-size="6.5" fill="#222" text-anchor="middle" textLength="14.0" lengthAdjust="spacingAndGlyphs" stroke="#222" stroke-width="0.18">1475</text>
<text x="373.30" y="196.94" font-size="6.5" fill="#222" text-anchor="middle" textLength="14.0" lengthAdjust="spacingAndGlyphs" stroke="#222" stroke-width="0.18">1244</text>
<text x="391.90" y="196.94" font-size="6.5" fill="#222" text-anchor="middle" textLength="14.0" lengthAdjust="spacingAndGlyphs" stroke="#222" stroke-width="0.18">1123</text>
<text x="410.50" y="196.94" font-size="6.5" fill="#222" text-anchor="middle" textLength="14.0" lengthAdjust="spacingAndGlyphs" stroke="#222" stroke-width="0.18">1017</text>
<text x="429.10" y="196.94" font-size="6.5" fill="#222" text-anchor="middle" textLength="10.5" lengthAdjust="spacingAndGlyphs" stroke="#222" stroke-width="0.18">943</text>
<text x="447.70" y="196.94" font-size="6.5" fill="#222" text-anchor="middle" textLength="10.5" lengthAdjust="spacingAndGlyphs" stroke="#222" stroke-width="0.18">880</text>
<text x="466.30" y="196.94" font-size="6.5" fill="#222" text-anchor="middle" textLength="10.5" lengthAdjust="spacingAndGlyphs" stroke="#222" stroke-width="0.18">810</text>
<text x="484.90" y="196.94" font-size="6.5" fill="#222" text-anchor="middle" textLength="10.5" lengthAdjust="spacingAndGlyphs" stroke="#222" stroke-width="0.18">729</text>
<text x="503.50" y="196.94" font-size="6.5" fill="#222" text-anchor="middle" textLength="10.5" lengthAdjust="spacingAndGlyphs" stroke="#222" stroke-width="0.18">658</text>
<line x1="305.60" y1="215.20" x2="308.20" y2="215.20" stroke="#111" stroke-width="1.0"/>
<text x="302.30" y="214.10" font-size="6.4" fill="#5cb85c" text-anchor="end" stroke="none">TP53mut</text>
<text x="302.30" y="221.50" font-size="6.4" fill="#5cb85c" text-anchor="end" stroke="none">only</text>
<text x="317.50" y="217.54" font-size="6.5" fill="#222" text-anchor="middle" textLength="10.5" lengthAdjust="spacingAndGlyphs" stroke="#222" stroke-width="0.18">169</text>
<text x="336.10" y="217.54" font-size="6.5" fill="#222" text-anchor="middle" textLength="7.0" lengthAdjust="spacingAndGlyphs" stroke="#222" stroke-width="0.18">67</text>
<text x="354.70" y="217.54" font-size="6.5" fill="#222" text-anchor="middle" textLength="7.0" lengthAdjust="spacingAndGlyphs" stroke="#222" stroke-width="0.18">25</text>
<text x="373.30" y="217.54" font-size="6.5" fill="#222" text-anchor="middle" textLength="7.0" lengthAdjust="spacingAndGlyphs" stroke="#222" stroke-width="0.18">12</text>
<text x="391.90" y="217.54" font-size="6.5" fill="#222" text-anchor="middle" textLength="7.0" lengthAdjust="spacingAndGlyphs" stroke="#222" stroke-width="0.18">10</text>
<text x="410.50" y="217.54" font-size="6.5" fill="#222" text-anchor="middle" textLength="3.5" lengthAdjust="spacingAndGlyphs" stroke="#222" stroke-width="0.18">6</text>
<text x="429.10" y="217.54" font-size="6.5" fill="#222" text-anchor="middle" textLength="3.5" lengthAdjust="spacingAndGlyphs" stroke="#222" stroke-width="0.18">6</text>
<text x="447.70" y="217.54" font-size="6.5" fill="#222" text-anchor="middle" textLength="3.5" lengthAdjust="spacingAndGlyphs" stroke="#222" stroke-width="0.18">5</text>
<text x="466.30" y="217.54" font-size="6.5" fill="#222" text-anchor="middle" textLength="3.5" lengthAdjust="spacingAndGlyphs" stroke="#222" stroke-width="0.18">4</text>
<text x="484.90" y="217.54" font-size="6.5" fill="#222" text-anchor="middle" textLength="3.5" lengthAdjust="spacingAndGlyphs" stroke="#222" stroke-width="0.18">3</text>
<text x="503.50" y="217.54" font-size="6.5" fill="#222" text-anchor="middle" textLength="3.5" lengthAdjust="spacingAndGlyphs" stroke="#222" stroke-width="0.18">2</text>
<line x1="305.60" y1="235.70" x2="308.20" y2="235.70" stroke="#111" stroke-width="1.0"/>
<text x="302.30" y="234.20" font-size="6.4" fill="#4fb3e3" text-anchor="end" stroke="none">MR mutation</text>
<text x="302.30" y="242.00" font-size="6.4" fill="#4fb3e3" text-anchor="end" stroke="none">only</text>
<text x="317.50" y="238.04" font-size="6.5" fill="#222" text-anchor="middle" textLength="10.5" lengthAdjust="spacingAndGlyphs" stroke="#222" stroke-width="0.18">598</text>
<text x="336.10" y="238.04" font-size="6.5" fill="#222" text-anchor="middle" textLength="10.5" lengthAdjust="spacingAndGlyphs" stroke="#222" stroke-width="0.18">421</text>
<text x="354.70" y="238.04" font-size="6.5" fill="#222" text-anchor="middle" textLength="10.5" lengthAdjust="spacingAndGlyphs" stroke="#222" stroke-width="0.18">312</text>
<text x="373.30" y="238.04" font-size="6.5" fill="#222" text-anchor="middle" textLength="10.5" lengthAdjust="spacingAndGlyphs" stroke="#222" stroke-width="0.18">219</text>
<text x="391.90" y="238.04" font-size="6.5" fill="#222" text-anchor="middle" textLength="10.5" lengthAdjust="spacingAndGlyphs" stroke="#222" stroke-width="0.18">179</text>
<text x="410.50" y="238.04" font-size="6.5" fill="#222" text-anchor="middle" textLength="10.5" lengthAdjust="spacingAndGlyphs" stroke="#222" stroke-width="0.18">144</text>
<text x="429.10" y="238.04" font-size="6.5" fill="#222" text-anchor="middle" textLength="10.5" lengthAdjust="spacingAndGlyphs" stroke="#222" stroke-width="0.18">132</text>
<text x="447.70" y="238.04" font-size="6.5" fill="#222" text-anchor="middle" textLength="10.5" lengthAdjust="spacingAndGlyphs" stroke="#222" stroke-width="0.18">118</text>
<text x="466.30" y="238.04" font-size="6.5" fill="#222" text-anchor="middle" textLength="10.5" lengthAdjust="spacingAndGlyphs" stroke="#222" stroke-width="0.18">103</text>
<text x="484.90" y="238.04" font-size="6.5" fill="#222" text-anchor="middle" textLength="7.0" lengthAdjust="spacingAndGlyphs" stroke="#222" stroke-width="0.18">92</text>
<text x="503.50" y="238.04" font-size="6.5" fill="#222" text-anchor="middle" textLength="7.0" lengthAdjust="spacingAndGlyphs" stroke="#222" stroke-width="0.18">77</text>
<line x1="305.60" y1="256.10" x2="308.20" y2="256.10" stroke="#111" stroke-width="1.0"/>
<text x="302.30" y="258.40" font-size="6.4" fill="#74649a" text-anchor="end" stroke="none">Both</text>
<text x="317.50" y="258.44" font-size="6.5" fill="#222" text-anchor="middle" textLength="7.0" lengthAdjust="spacingAndGlyphs" stroke="#222" stroke-width="0.18">37</text>
<text x="336.10" y="258.44" font-size="6.5" fill="#222" text-anchor="middle" textLength="7.0" lengthAdjust="spacingAndGlyphs" stroke="#222" stroke-width="0.18">12</text>
<text x="354.70" y="258.44" font-size="6.5" fill="#222" text-anchor="middle" textLength="3.5" lengthAdjust="spacingAndGlyphs" stroke="#222" stroke-width="0.18">6</text>
<text x="373.30" y="258.44" font-size="6.5" fill="#222" text-anchor="middle" textLength="3.5" lengthAdjust="spacingAndGlyphs" stroke="#222" stroke-width="0.18">2</text>
<text x="391.90" y="258.44" font-size="6.5" fill="#222" text-anchor="middle" textLength="3.5" lengthAdjust="spacingAndGlyphs" stroke="#222" stroke-width="0.18">2</text>
<text x="410.50" y="258.44" font-size="6.5" fill="#222" text-anchor="middle" textLength="3.5" lengthAdjust="spacingAndGlyphs" stroke="#222" stroke-width="0.18">0</text>
<text x="429.10" y="258.44" font-size="6.5" fill="#222" text-anchor="middle" textLength="3.5" lengthAdjust="spacingAndGlyphs" stroke="#222" stroke-width="0.18">0</text>
<text x="447.70" y="258.44" font-size="6.5" fill="#222" text-anchor="middle" textLength="3.5" lengthAdjust="spacingAndGlyphs" stroke="#222" stroke-width="0.18">0</text>
<text x="466.30" y="258.44" font-size="6.5" fill="#222" text-anchor="middle" textLength="3.5" lengthAdjust="spacingAndGlyphs" stroke="#222" stroke-width="0.18">0</text>
<text x="484.90" y="258.44" font-size="6.5" fill="#222" text-anchor="middle" textLength="3.5" lengthAdjust="spacingAndGlyphs" stroke="#222" stroke-width="0.18">0</text>
<text x="503.50" y="258.44" font-size="6.5" fill="#222" text-anchor="middle" textLength="3.5" lengthAdjust="spacingAndGlyphs" stroke="#222" stroke-width="0.18">0</text>
</svg>
</body></html>
